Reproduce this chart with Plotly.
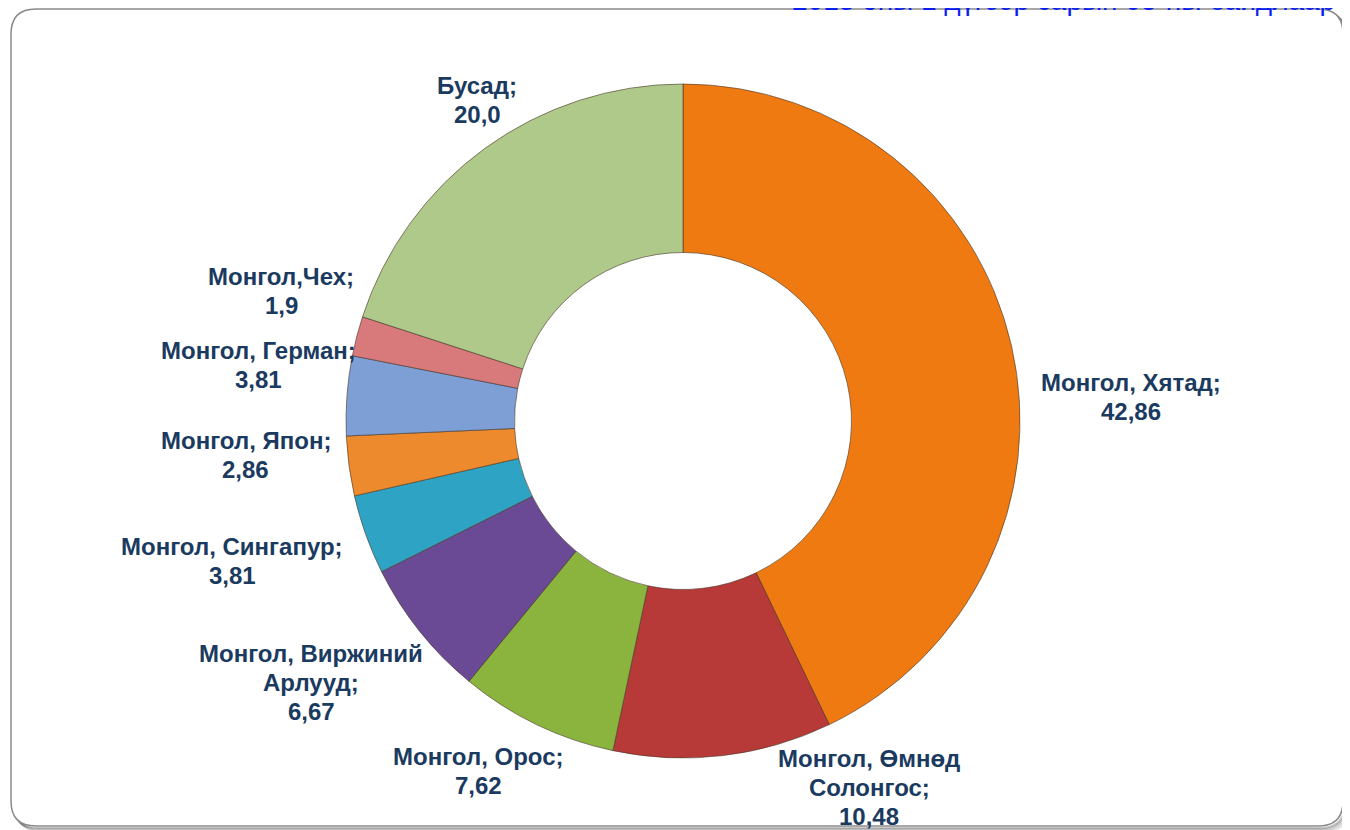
import plotly.graph_objects as go

# ---- data ----
categories = ["Монгол, Хятад", "Монгол, Өмнөд Солонгос", "Монгол, Орос",
              "Монгол, Виржиний Арлууд", "Монгол, Сингапур", "Монгол, Япон",
              "Монгол, Герман", "Монгол,Чех", "Бусад"]
values = [42.86, 10.48, 7.62, 6.67, 3.81, 2.86, 3.81, 1.9, 20.0]
subtitle = "2013 оны 1 дүгээр сарын 05-ны байдлаар"

# ---- styling / layout (not data) ----
colors = ["#F07A12", "#B83A38", "#8AB43E", "#6A4A94", "#2EA3C3",
          "#EE8A2E", "#7E9ED6", "#D87A7B", "#AFC98A"]
wrap = {"Монгол, Өмнөд Солонгос": ["Монгол, Өмнөд", "Солонгос"],
        "Монгол, Виржиний Арлууд": ["Монгол, Виржиний", "Арлууд"]}
# label block centres in screen pixels
label_pos = [(1131, 397), (869, 787), (478, 771), (311, 682), (232, 561),
             (246, 455), (258, 365), (281, 291), (477, 100)]
LINE_PITCH = 29

W, H = 1350, 830
OFF = 8  # page body margin offset
def px(x): return (x - OFF) / W
def py(y): return 1 - (y - OFF) / H

cx, cy, R = 683, 421, 337

fig = go.Figure(go.Pie(
    labels=categories, values=values, sort=False, direction="clockwise",
    rotation=0, hole=0.5, textinfo="none", hoverinfo="label+value",
    marker=dict(colors=colors, line=dict(color="rgba(70,55,40,0.6)", width=1)),
    domain=dict(x=[px(cx - R), px(cx + R)], y=[py(cy + R), py(cy - R)]),
    showlegend=False,
))

annotations = []
for cat, v, (lx, ly) in zip(categories, values, label_pos):
    lines = list(wrap.get(cat, [cat]))
    lines[-1] = lines[-1] + ";"
    lines.append(str(v).replace(".", ","))
    n = len(lines)
    for i, ln in enumerate(lines):
        yy = ly + (i - (n - 1) / 2) * LINE_PITCH
        annotations.append(dict(
            x=px(lx), y=py(yy), xref="paper", yref="paper", text=f"<b>{ln}</b>",
            showarrow=False, xanchor="center", yanchor="middle",
            font=dict(family="Liberation Sans, Arial", size=24, color="#1B3A60")))

annotations.append(dict(
    x=px(1337), y=py(18), xref="paper", yref="paper", text=subtitle,
    showarrow=False, xanchor="right", yanchor="bottom",
    font=dict(family="Liberation Sans, Arial", size=28, color="#0A1EF0")))

def rrect(x0, y0, x1, y1, r):
    X0, X1 = px(x0), px(x1)
    Y0, Y1 = py(y0), py(y1)
    rx, ry = r / W, r / H
    return (f"M {X0+rx},{Y0} L {X1-rx},{Y0} Q {X1},{Y0} {X1},{Y0-ry} "
            f"L {X1},{Y1+ry} Q {X1},{Y1} {X1-rx},{Y1} L {X0+rx},{Y1} "
            f"Q {X0},{Y1} {X0},{Y1+ry} L {X0},{Y0-ry} Q {X0},{Y0} {X0+rx},{Y0} Z")

shapes = []
for k, op in [(6, 0.06), (5, 0.09), (4, 0.12), (3, 0.16), (2, 0.22)]:
    shapes.append(dict(type="path", xref="paper", yref="paper",
                       path=rrect(11 + k, 9 + k, 1343 + k, 826 + k, 25),
                       line=dict(color=f"rgba(0,0,0,{op})", width=2),
                       fillcolor="rgba(0,0,0,0)", layer="below"))
shapes.append(dict(type="path", xref="paper", yref="paper",
                   path=rrect(11, 9, 1343, 826, 25),
                   line=dict(color="#8A8A8A", width=1.5), fillcolor="white",
                   layer="below"))

fig.update_layout(
    width=W, height=H, margin=dict(l=0, r=0, t=0, b=0),
    paper_bgcolor="white", plot_bgcolor="white",
    annotations=annotations, shapes=shapes,
)

fig.write_html("out.html")
